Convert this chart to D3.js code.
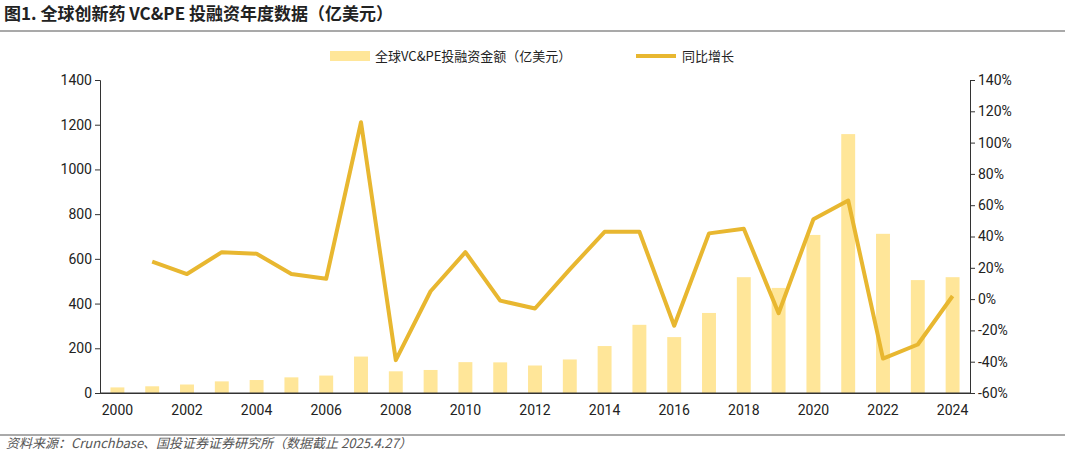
<!DOCTYPE html>
<html><head><meta charset="utf-8">
<script src="https://cdn.jsdelivr.net/npm/d3@7"></script>
<style>body{margin:0;background:#fff}svg{font-family:"Noto Sans CJK SC","Noto Sans",sans-serif}</style>
</head><body><svg id="c" width="1065" height="458"></svg>
<script>
const years = d3.range(2000, 2025);
const funding = [25,30,38,52,58,70,78,163,97,103,138,137,123,150,210,305,250,358,518,470,707,1158,712,505,518];
const growth = [null,24,16,30,29,16,13,113,-39,5,30,-1,-6,19,43,43,-17,42,45,-9,51,63,-38,-29,2];
const leftTicks = d3.range(0,1401,200);
const rightTicks = d3.range(-60,141,20);

const svg = d3.select("#c");
const m = {l:100,r:970,t:80,b:393};
const x = d3.scaleBand().domain(years).range([m.l,m.r]).paddingInner(0.6).paddingOuter(0.3);
const yL = d3.scaleLinear().domain([0,1400]).range([m.b,m.t]);
const yR = d3.scaleLinear().domain([-60,140]).range([m.b,m.t]);

svg.append("text").attr("x",4).attr("y",20).attr("font-size",17).attr("font-weight","bold").attr("fill","#222")
  .text("图1. 全球创新药 VC&PE 投融资年度数据（亿美元）");
svg.append("line").attr("x1",0).attr("x2",1065).attr("y1",31).attr("y2",31).attr("stroke","#555").attr("stroke-width",1.2);
svg.append("line").attr("x1",0).attr("x2",1065).attr("y1",435).attr("y2",435).attr("stroke","#555").attr("stroke-width",1);
svg.append("text").attr("x",6).attr("y",448).attr("font-size",13).attr("font-style","italic").attr("fill","#555")
  .text("资料来源：Crunchbase、国投证券证券研究所（数据截止 2025.4.27）");

svg.append("rect").attr("x",330).attr("y",51).attr("width",40).attr("height",10).attr("fill","#FFE699");
svg.append("text").attr("x",375).attr("y",61).attr("font-size",13).attr("fill","#222").text("全球VC&PE投融资金额（亿美元）");
svg.append("line").attr("x1",636).attr("x2",676).attr("y1",56).attr("y2",56).attr("stroke","#E8B730").attr("stroke-width",4);
svg.append("text").attr("x",682).attr("y",61).attr("font-size",13).attr("fill","#222").text("同比增长");

svg.selectAll(".bar").data(years).enter().append("rect")
  .attr("x",d=>x(d)).attr("width",x.bandwidth())
  .attr("y",(d,i)=>yL(funding[i])).attr("height",(d,i)=>yL(0)-yL(funding[i])).attr("fill","#FFE699");

const line = d3.line().defined(d=>d[1]!==null).x(d=>x(d[0])+x.bandwidth()/2).y(d=>yR(d[1]));
svg.append("path").datum(years.map((y,i)=>[y,growth[i]])).attr("d",line)
  .attr("fill","none").attr("stroke","#E8B730").attr("stroke-width",4).attr("stroke-linejoin","round");

const ax = svg.append("g").attr("transform",`translate(0,${m.b})`)
  .call(d3.axisBottom(x).tickValues(years.filter(y=>y%2===0)).tickSize(0).tickPadding(12));
svg.append("line").attr("x1",m.l).attr("x2",m.r).attr("y1",m.b).attr("y2",m.b).attr("stroke","#333");
const al = svg.append("g").attr("transform",`translate(${m.l},0)`)
  .call(d3.axisLeft(yL).tickValues(leftTicks).tickSize(5).tickFormat(d3.format("d")));
const ar = svg.append("g").attr("transform",`translate(${m.r},0)`)
  .call(d3.axisRight(yR).tickValues(rightTicks).tickSize(5).tickFormat(d=>d+"%"));
[ax,al,ar].forEach(g=>{g.selectAll("text").attr("font-size",14).attr("fill","#222").attr("font-family","Roboto,Noto Sans,sans-serif");
  g.selectAll("line,path").attr("stroke","#333");});
</script></body></html>
